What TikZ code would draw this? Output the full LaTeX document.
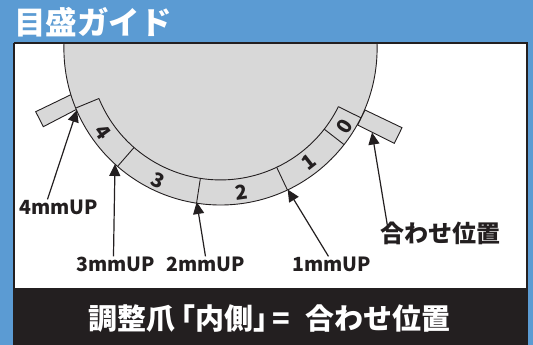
\documentclass[tikz,border=0pt]{standalone}
\usepackage{fontspec}
\setmainfont{Noto Sans CJK JP}
\usetikzlibrary{arrows.meta}
\definecolor{bluebg}{HTML}{5B9BD3}
\definecolor{ink}{HTML}{231F20}
\definecolor{disk}{HTML}{D8D8D8}
\tikzset{
  outline/.style={draw=ink,line width=0.9pt,line join=miter},
  pointer/.style={draw=ink,line width=1.2pt,-{Triangle[length=12pt,width=11pt]}},
  lbl/.style={inner sep=0pt,text=ink,font=\bfseries\fontsize{19.5}{20}\selectfont},
  num/.style={inner sep=0pt,text=ink,font=\bfseries\fontsize{20}{20}\selectfont},
}
\begin{document}
\begin{tikzpicture}[x=1pt,y=-1pt]
\useasboundingbox (0,0) rectangle (533,345);
\fill[bluebg] (0,0) rectangle (533,345);
\fill[white] (14,43) rectangle (527,288);
\coordinate (C) at (220.5,48.4);
\begin{scope}
\clip (14,43) rectangle (527,288);
\draw[outline,fill=disk] (71.7,94.3) -- (35.7,111.7) -- (43.3,126.7) -- (77.3,109) -- cycle;
\draw[outline,fill=disk] (365,110) -- (402,127.7) -- (394.3,143.3) -- (357.7,125) -- cycle;
\draw[outline,fill=disk] (C) circle[radius=156.6pt];
\draw[outline] ([shift={(C)}]202.4:131.5pt) arc[start angle=202.4,end angle=333.7,radius=131.5pt];
\foreach \a in {202.4,228.9,261.2,295.3,322.1,333.7}
  \draw[outline] ([shift={(C)}]\a:131.5pt) -- ([shift={(C)}]\a:156.6pt);
\end{scope}
\draw[draw=ink,line width=2pt] (14,43) -- (527,43) -- (527,288) (14,43) -- (14,288);
\fill[ink] (13,288) rectangle (528,345);
\node[anchor=west,inner sep=0pt,text=white,font=\bfseries\fontsize{31.5}{32}\selectfont] (title) at (14,22.5) {目盛ガイド};
\node[num,rotate=-54] (n4) at (102.7,132.3) {4};
\node[num,rotate=-25] (n3) at (158,180) {3};
\node[num,rotate=8] (n2) at (241.7,192) {2};
\node[num,rotate=38] (n1) at (308.7,161.7) {1};
\node[num,rotate=58] (n0) at (345,126) {0};
\node[lbl,anchor=west] (l4) at (19,207) {4mmUP};
\node[lbl,anchor=west] (l3) at (76,264) {3mmUP};
\node[lbl,anchor=west] (l2) at (166,264) {2mmUP};
\node[lbl,anchor=west] (l1) at (292,264) {1mmUP};
\node[inner sep=0pt,text=ink,anchor=west,font=\bfseries\fontsize{24}{24}\selectfont] (l0) at (380,233) {合わせ位置};
\coordinate (t4) at (77,110);
\coordinate (t3) at (115,164);
\coordinate (t2) at (196.7,202);
\coordinate (t1) at (287.7,189.5);
\coordinate (t0) at (372,132.5);
\draw[pointer] ([xshift=-11pt]l4.north) -- (t4);
\draw[pointer] ([xshift=-2pt]l3.north) -- (t3);
\draw[pointer] ([xshift=0pt]l2.north) -- (t2);
\draw[pointer] ([xshift=-3pt]l1.north) -- (t1);
\draw[pointer] ([xshift=-52pt,yshift=-9pt]l0.north) -- (t0);
\node[anchor=west,inner sep=0pt,text=white,font=\bfseries\fontsize{29}{29}\selectfont] (foot) at (88,319) {調整爪\hspace{-9pt}「内側」\hspace{-10pt}=\hspace{16pt}合わせ位置};
\end{tikzpicture}
\end{document}
